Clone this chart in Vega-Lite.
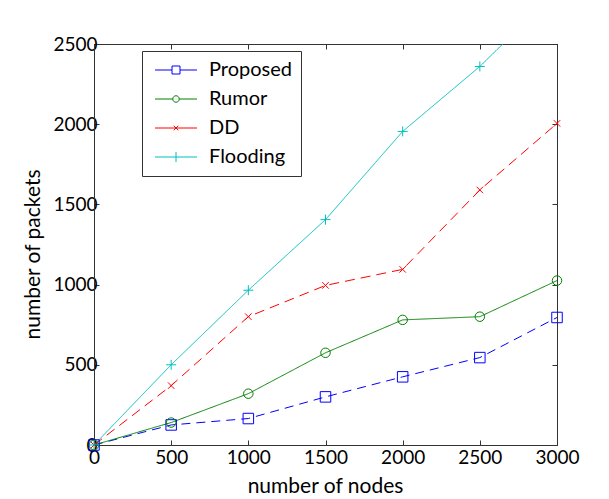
{
  "$schema": "https://vega.github.io/schema/vega-lite/v6.json",
  "width": 463,
  "height": 401,
  "autosize": {"type": "none"},
  "padding": {"left": 94, "top": 44, "right": 52, "bottom": 54},
  "background": "white",
  "config": {
    "view": {"stroke": "#333", "strokeWidth": 1},
    "font": "Lato",
    "axis": {"grid": false, "domainColor": "#333", "tickColor": "#333", "labelColor": "black", "titleColor": "black", "labelFont": "Lato", "titleFont": "Lato", "labelFontSize": 19, "titleFontSize": 21, "titleFontWeight": "normal", "tickSize": -5, "labelPadding": 8, "format": "d", "labelFlush": false, "labelOverlap": false}
  },
  "data": {"values": [
    {"nodes": 0, "packets": 0, "series": "Proposed"},
    {"nodes": 500, "packets": 125, "series": "Proposed"},
    {"nodes": 1000, "packets": 165, "series": "Proposed"},
    {"nodes": 1500, "packets": 300, "series": "Proposed"},
    {"nodes": 2000, "packets": 425, "series": "Proposed"},
    {"nodes": 2500, "packets": 545, "series": "Proposed"},
    {"nodes": 3000, "packets": 795, "series": "Proposed"},
    {"nodes": 0, "packets": 0, "series": "Rumor"},
    {"nodes": 500, "packets": 140, "series": "Rumor"},
    {"nodes": 1000, "packets": 320, "series": "Rumor"},
    {"nodes": 1500, "packets": 575, "series": "Rumor"},
    {"nodes": 2000, "packets": 780, "series": "Rumor"},
    {"nodes": 2500, "packets": 800, "series": "Rumor"},
    {"nodes": 3000, "packets": 1025, "series": "Rumor"},
    {"nodes": 0, "packets": 0, "series": "DD"},
    {"nodes": 500, "packets": 370, "series": "DD"},
    {"nodes": 1000, "packets": 800, "series": "DD"},
    {"nodes": 1500, "packets": 995, "series": "DD"},
    {"nodes": 2000, "packets": 1095, "series": "DD"},
    {"nodes": 2500, "packets": 1590, "series": "DD"},
    {"nodes": 3000, "packets": 2005, "series": "DD"},
    {"nodes": 0, "packets": 0, "series": "Flooding"},
    {"nodes": 500, "packets": 500, "series": "Flooding"},
    {"nodes": 1000, "packets": 965, "series": "Flooding"},
    {"nodes": 1500, "packets": 1405, "series": "Flooding"},
    {"nodes": 2000, "packets": 1955, "series": "Flooding"},
    {"nodes": 2500, "packets": 2360, "series": "Flooding"},
    {"nodes": 3000, "packets": 2830, "series": "Flooding"}
  ]},
  "encoding": {
    "x": {"field": "nodes", "type": "quantitative", "scale": {"domain": [0, 3000], "nice": false, "zero": false}},
    "y": {"field": "packets", "type": "quantitative", "scale": {"domain": [0, 2500], "nice": false, "zero": false}},
    "color": {"field": "series", "type": "nominal", "legend": null, "scale": {"domain": ["Proposed", "Rumor", "DD", "Flooding"], "range": ["#0000ff", "#008000", "#ff0000", "#00bfbf"]}}
  },
  "layer": [
    {
      "mark": {"type": "line", "clip": true, "strokeWidth": 1},
      "encoding": {
        "x": {"field": "nodes", "type": "quantitative", "axis": {"orient": "bottom", "values": [0, 500, 1000, 1500, 2000, 2500, 3000], "title": "number of nodes", "titleX": 231, "titleY": 30, "titleAnchor": "middle"}},
        "y": {"field": "packets", "type": "quantitative", "axis": {"orient": "left", "values": [0, 500, 1000, 1500, 2000, 2500], "title": "number of packets", "titleX": -51, "titleY": 210, "labelPadding": 2}},
        "strokeDash": {"field": "series", "type": "nominal", "scale": {"domain": ["Proposed", "Rumor", "DD", "Flooding"], "range": [[9, 6], [1, 0], [10, 6], [1, 0]]}, "legend": null}
      }
    },
    {
      "transform": [{"filter": "datum.packets <= 2500"}],
      "mark": {"type": "point", "filled": false, "size": 100, "strokeWidth": 1, "opacity": 1},
      "encoding": {
        "x": {"field": "nodes", "type": "quantitative", "axis": null},
        "y": {"field": "packets", "type": "quantitative", "axis": null},
        "shape": {"field": "series", "type": "nominal", "scale": {"domain": ["Proposed", "Rumor", "DD", "Flooding"], "range": ["M-1.05,-1.05H1.05V1.05H-1.05Z", "M-0.95,0A0.95,0.95,0,1,0,0.95,0A0.95,0.95,0,1,0,-0.95,0", "M-0.65,-0.65L0.65,0.65M-0.65,0.65L0.65,-0.65", "M-1,0L1,0M0,-1L0,1"]}, "legend": null}
      }
    },
    {
      "mark": {"type": "point", "filled": false, "size": 100, "strokeWidth": 1, "opacity": 0},
      "encoding": {
        "x": {"field": "nodes", "type": "quantitative", "axis": {"orient": "top", "values": [0, 500, 1000, 1500, 2000, 2500, 3000], "labels": false, "title": null}},
        "y": {"field": "packets", "type": "quantitative", "axis": {"orient": "right", "values": [0, 500, 1000, 1500, 2000, 2500], "labels": false, "title": null}},
        "color": {"field": "series", "type": "nominal", "scale": {"domain": ["Proposed", "Rumor", "DD", "Flooding"], "range": ["#0000ff", "#008000", "#ff0000", "#00bfbf"]}, "legend": {"orient": "none", "legendX": 48, "legendY": 7, "title": null, "strokeColor": "#333", "fillColor": "white", "padding": 9, "symbolOffset": 15, "labelOffset": 23, "rowPadding": 9, "labelFont": "Lato", "labelFontSize": 20, "labelColor": "black", "symbolSize": 100, "symbolStrokeWidth": 1, "symbolOpacity": 1, "cornerRadius": 0}},
        "shape": {"field": "series", "type": "nominal", "scale": {"domain": ["Proposed", "Rumor", "DD", "Flooding"], "range": ["M-4.2,0H-0.8M0.8,0H4.2M-0.8,-0.8H0.8V0.8H-0.8Z", "M-4.2,0H-0.65M0.65,0H4.2M-0.65,0A0.65,0.65,0,1,0,0.65,0A0.65,0.65,0,1,0,-0.65,0", "M-4.2,0H4.2M-0.45,-0.45L0.45,0.45M-0.45,0.45L0.45,-0.45", "M-4.2,0H4.2M0,-1L0,1"]}, "legend": {"orient": "none", "legendX": 48, "legendY": 7, "title": null, "strokeColor": "#333", "fillColor": "white", "padding": 9, "symbolOffset": 15, "labelOffset": 23, "rowPadding": 9, "labelFont": "Lato", "labelFontSize": 20, "labelColor": "black", "symbolSize": 100, "symbolStrokeWidth": 1, "symbolOpacity": 1, "cornerRadius": 0}}
      }
    }
  ],
  "resolve": {"scale": {"shape": "independent", "color": "independent"}, "axis": {"x": "independent", "y": "independent"}}
}
